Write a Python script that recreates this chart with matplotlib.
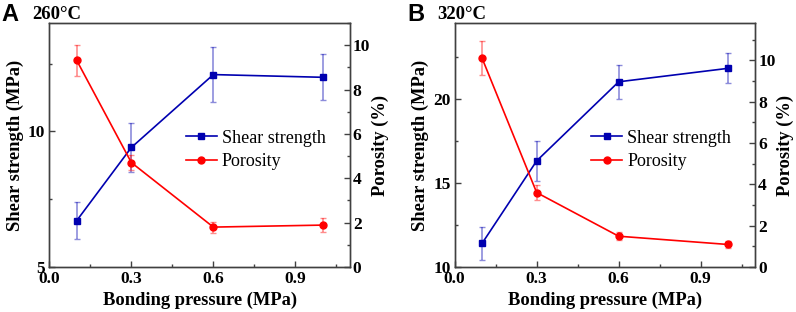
import matplotlib
matplotlib.use("Agg")
import matplotlib.pyplot as plt
from matplotlib.ticker import MultipleLocator

plt.rcParams['font.family'] = ['Liberation Serif', 'DejaVu Serif']
plt.rcParams['font.weight'] = 'bold'

# Data
pressure = [0.1, 0.3, 0.6, 1.0]

# Panel A, 260 °C
shear_a = [6.71, 9.41, 12.1, 12.0]
shear_a_err = [0.69, 0.9, 1.0, 0.85]
poro_a = [9.32, 4.71, 1.80, 1.89]
poro_a_err = [0.7, 0.35, 0.25, 0.3]

# Panel B, 320 °C
shear_b = [11.4, 16.31, 21.01, 21.81]
shear_b_err = [1.0, 1.2, 1.0, 0.9]
poro_b = [10.11, 3.6, 1.49, 1.09]
poro_b_err = [0.8, 0.37, 0.2, 0.18]

panels = [
    ("A", "260°C", shear_a, shear_a_err, poro_a, poro_a_err, (5, 14), 5, (0, 11)),
    ("B", "320°C", shear_b, shear_b_err, poro_b, poro_b_err, (10, 24.5), 5, (0, 11.8)),
]

BLUE = "#0000b0"
RED = "#ff0000"
SPINE = "#404040"

fig = plt.figure(figsize=(7.96, 3.12), dpi=100)
lefts = [0.062, 0.5712]

for left, (letter, temp, sh, she, po, poe, ylim, ystep, y2lim) in zip(lefts, panels):
    ax = fig.add_axes([left, 0.1442, 0.3777, 0.7818])
    ax2 = ax.twinx()

    ax.errorbar(pressure, sh, yerr=she, fmt='none', ecolor=BLUE, alpha=0.45,
                elinewidth=1.2, capsize=2.5, capthick=1.0, zorder=2)
    l1, = ax.plot(pressure, sh, '-s', color=BLUE, ms=4.5, lw=1.2, zorder=3,
                  label="Shear strength")
    ax2.errorbar(pressure, po, yerr=poe, fmt='none', ecolor=RED, alpha=0.45,
                 elinewidth=1.2, capsize=2.5, capthick=1.0, zorder=2)
    l2, = ax2.plot(pressure, po, '-o', color=RED, ms=5, lw=1.2, zorder=3,
                   label="Porosity")

    ax.set_xlim(0, 1.1)
    ax.set_ylim(*ylim)
    ax2.set_ylim(*y2lim)
    ax.xaxis.set_major_locator(MultipleLocator(0.3))
    ax.xaxis.set_minor_locator(MultipleLocator(0.15))
    ax.yaxis.set_major_locator(MultipleLocator(ystep))
    ax.yaxis.set_minor_locator(MultipleLocator(ystep / 2))
    ax2.yaxis.set_major_locator(MultipleLocator(2))
    ax2.yaxis.set_minor_locator(MultipleLocator(1))
    ax.xaxis.set_major_formatter(plt.FuncFormatter(lambda v, p: f"{v:.1f}"))

    for a in (ax, ax2):
        for s in a.spines.values():
            s.set_color(SPINE)
            s.set_linewidth(1.0)
        a.tick_params(which='both', direction='in', color=SPINE, labelsize=12.5, pad=3)
        a.tick_params(which='major', length=4, width=1.0)
        a.tick_params(which='minor', length=2.5, width=1.0)
        for lab in a.get_xticklabels() + a.get_yticklabels():
            lab.set_fontweight('bold')
    ax.tick_params(axis='y', which='both', right=False)
    ax.tick_params(axis='x', which='both', top=False)
    ax2.tick_params(axis='y', pad=2)

    ax.set_xlabel("Bonding pressure (MPa)", fontsize=13.3, fontweight='bold', labelpad=3)
    ax.set_ylabel("Shear strength (MPa)", fontsize=13.3, fontweight='bold', labelpad=3)
    ax2.set_ylabel("Porosity (%)", fontsize=13.3, fontweight='bold', labelpad=1)

    leg = ax2.legend(handles=[l1, l2], loc='center left', bbox_to_anchor=(0.43, 0.48),
                     frameon=False, fontsize=13, handlelength=1.7, handletextpad=0.3,
                     labelspacing=0.35, borderaxespad=0)
    for t in leg.get_texts():
        t.set_fontweight('normal')

    fig.text(left - 0.060, 0.955, letter, fontsize=17, fontweight='bold',
             family=['Liberation Sans', 'DejaVu Sans'], va='center', ha='left')
    fig.text(left - 0.022, 0.955, temp, fontsize=13.5, fontweight='bold',
             va='center', ha='left')

fig.savefig("out.png", dpi=100)
